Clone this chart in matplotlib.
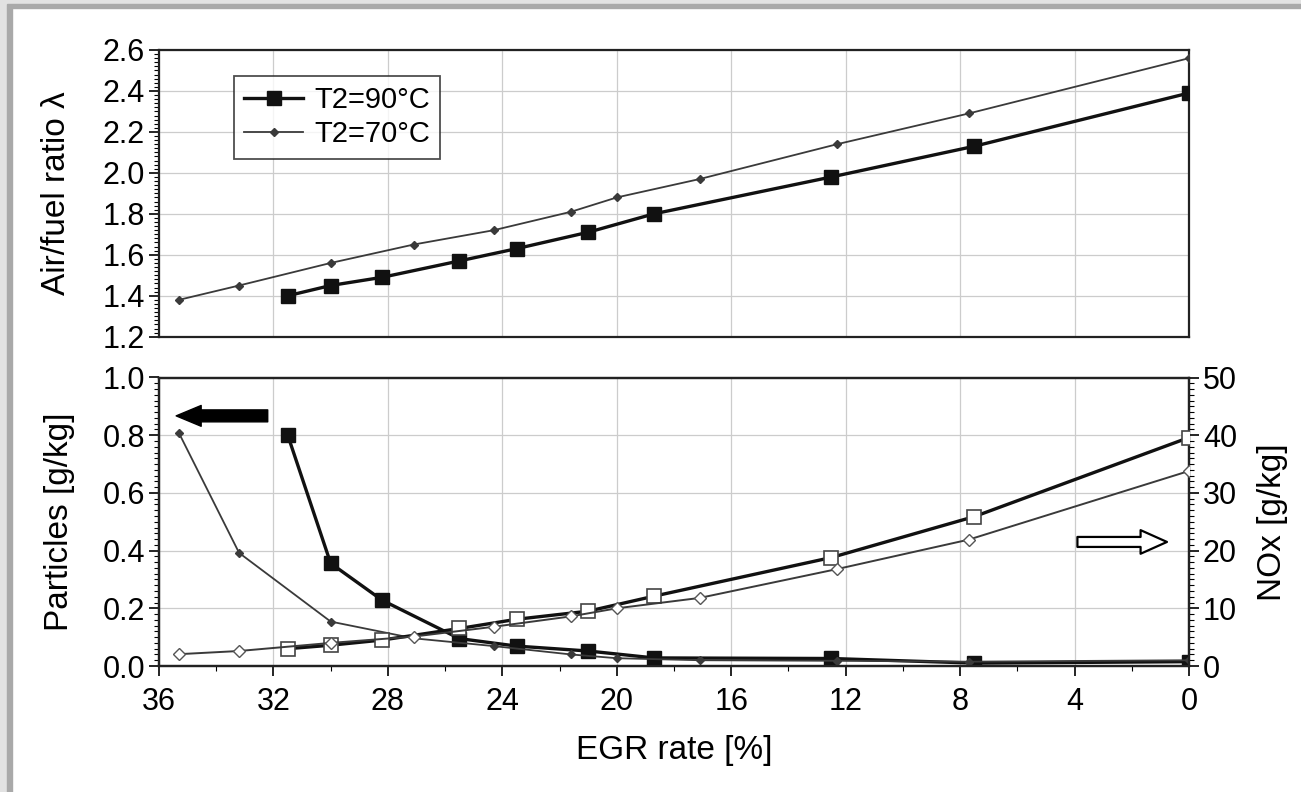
import matplotlib
matplotlib.use("Agg")
import matplotlib.pyplot as plt
from matplotlib.ticker import MultipleLocator, FormatStrFormatter
from matplotlib.patches import Rectangle

plt.rcParams['font.family'] = ['Liberation Sans Narrow', 'Liberation Sans', 'DejaVu Sans']

# EGR rate test points [%]
egr_90 = [31.5, 30.0, 28.2, 25.5, 23.5, 21.0, 18.7, 12.5, 7.5, 0.0]
egr_70 = [35.3, 33.2, 30.0, 27.1, 24.3, 21.6, 20.0, 17.1, 12.3, 7.7, 0.0]

# air/fuel ratio lambda
lam_90 = [1.40, 1.45, 1.49, 1.57, 1.63, 1.71, 1.80, 1.98, 2.13, 2.39]
lam_70 = [1.38, 1.45, 1.56, 1.65, 1.72, 1.81, 1.88, 1.97, 2.14, 2.29, 2.56]

# particles [g/kg]
pm_90 = [0.80, 0.356, 0.228, 0.095, 0.069, 0.052, 0.028, 0.026, 0.010, 0.015]
pm_70 = [0.807, 0.392, 0.154, 0.096, 0.069, 0.040, 0.027, 0.020, 0.018, 0.015, 0.020]

# NOx [g/kg]
nox_90 = [3.0, 3.6, 4.5, 6.5, 8.1, 9.5, 12.1, 18.8, 25.9, 39.6]
nox_70 = [2.05, 2.6, 4.0, 5.1, 6.8, 8.6, 10.0, 11.8, 16.8, 21.9, 33.8]

fig = plt.figure(figsize=(13.01, 7.92), dpi=100)

# grey picture frame
fig.patches.append(Rectangle((0, 0), 7 / 1301, 1, transform=fig.transFigure, color='#e2e2e2', zorder=0))
fig.patches.append(Rectangle((7 / 1301, 0), 5 / 1301, 1 - 8 / 792, transform=fig.transFigure, color='#a9a9a9', zorder=0))
fig.patches.append(Rectangle((0, 1 - 4 / 792), 1, 4 / 792, transform=fig.transFigure, color='#e2e2e2', zorder=0))
fig.patches.append(Rectangle((7 / 1301, 1 - 8 / 792), 1, 4 / 792, transform=fig.transFigure, color='#a9a9a9', zorder=0))

L, W = 159 / 1301, 1030 / 1301
ax1 = fig.add_axes([L, 1 - 336.7 / 792, W, 286.7 / 792])
ax = fig.add_axes([L, 1 - 666 / 792, W, 288.5 / 792])

c90 = '#111111'
c70 = '#3a3a3a'
tick_fs = 22


def style(a):
    a.set_xlim(36, 0)
    a.xaxis.set_major_locator(MultipleLocator(4))
    a.xaxis.set_minor_locator(MultipleLocator(2))
    a.grid(True, which='major', color='#cccccc', lw=0.9)
    a.set_axisbelow(True)
    for s in a.spines.values():
        s.set_linewidth(1.6)
        s.set_color('#222222')
    a.tick_params(which='major', direction='out', length=7, width=1.2, labelsize=tick_fs, pad=3)
    a.tick_params(which='minor', direction='out', length=3.5, width=0.8)
    a.tick_params(axis='x', which='major', pad=8)


# top panel: air/fuel ratio
style(ax1)
ax1.plot(egr_90, lam_90, color=c90, lw=2.4, marker='s', ms=10, label='T2=90°C', zorder=3)
ax1.plot(egr_70, lam_70, color=c70, lw=1.3, marker='D', ms=4.5, label='T2=70°C', zorder=3)
ax1.set_ylim(1.2, 2.6)
ax1.yaxis.set_major_locator(MultipleLocator(0.2))
ax1.yaxis.set_minor_locator(MultipleLocator(0.02))
ax1.yaxis.set_major_formatter(FormatStrFormatter('%.1f'))
ax1.tick_params(axis='x', which='both', bottom=False, labelbottom=False)
ax1.set_ylabel('Air/fuel ratio λ', fontsize=24)
ax1.yaxis.set_label_coords(-0.084, 0.5)
leg = ax1.legend(loc='upper left', bbox_to_anchor=(0.073, 0.91), fontsize=21, frameon=True,
                 fancybox=False, handlelength=2.0, handletextpad=0.4, borderpad=0.35,
                 labelspacing=0.22, borderaxespad=0)
leg.get_frame().set_edgecolor('#222222')
leg.get_frame().set_linewidth(1.3)

# bottom panel: particles (left) and NOx (right)
style(ax)
ax.plot(egr_90, pm_90, color=c90, lw=2.4, marker='s', ms=10, zorder=3)
ax.plot(egr_70, pm_70, color=c70, lw=1.3, marker='D', ms=4.5, zorder=3)
ax.set_ylim(0, 1.0)
ax.yaxis.set_major_locator(MultipleLocator(0.2))
ax.yaxis.set_minor_locator(MultipleLocator(0.02))
ax.yaxis.set_major_formatter(FormatStrFormatter('%.1f'))
ax.set_ylabel('Particles [g/kg]', fontsize=24)
ax.yaxis.set_label_coords(-0.082, 0.5)
ax.set_xlabel('EGR rate [%]', fontsize=24)
ax.xaxis.set_label_coords(0.5, -0.24)

ax2 = ax.twinx()
ax2.plot(egr_90, nox_90, color=c90, lw=2.4, marker='s', ms=10, mfc='white', mec='#444444', mew=1.2, zorder=3)
ax2.plot(egr_70, nox_70, color=c70, lw=1.4, marker='D', ms=6, mfc='white', mec='#555555', mew=1.0, zorder=3)
ax2.set_ylim(0, 50)
ax2.yaxis.set_major_locator(MultipleLocator(10))
ax2.yaxis.set_minor_locator(MultipleLocator(1))
for s in ax2.spines.values():
    s.set_linewidth(1.6)
    s.set_color('#222222')
ax2.tick_params(which='major', direction='out', length=7, width=1.2, labelsize=tick_fs, pad=3)
ax2.tick_params(which='minor', direction='out', length=3.5, width=0.8)
ax2.set_ylabel('NOx [g/kg]', fontsize=24)
ax2.yaxis.set_label_coords(1.066, 0.5)

# arrows pointing to the matching axis
ax.annotate('', xy=(35.4, 0.867), xytext=(32.2, 0.867),
            arrowprops=dict(arrowstyle='simple,head_length=0.9,head_width=0.75,tail_width=0.43',
                            mutation_scale=20, fc='black', ec='black', shrinkA=0, shrinkB=0))
ax2.annotate('', xy=(0.77, 21.5), xytext=(3.9, 21.5),
             arrowprops=dict(arrowstyle='simple,head_length=0.95,head_width=0.85,tail_width=0.36',
                             mutation_scale=20, fc='white', ec='black', lw=1.6, shrinkA=0, shrinkB=0))

fig.savefig('out.png', dpi=100)
